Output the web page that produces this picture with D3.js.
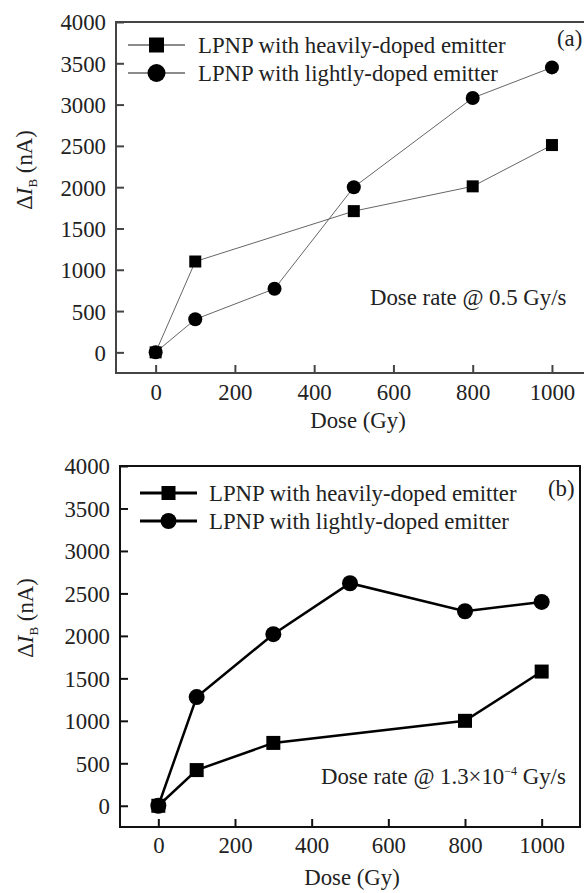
<!DOCTYPE html>
<html>
<head>
<meta charset="utf-8">
<script src="https://cdn.jsdelivr.net/npm/d3@7"></script>
<style>
  body { margin: 0; background: #fff; }
  svg { display: block; font-family: "Liberation Serif", "Times New Roman", serif; }
</style>
</head>
<body>
<svg id="chart" width="584" height="893"></svg>
<script>
// data
const doseTicks = [0, 200, 400, 600, 800, 1000];
const currentTicks = [0, 500, 1000, 1500, 2000, 2500, 3000, 3500, 4000];
const seriesNames = ["LPNP with heavily-doped emitter", "LPNP with lightly-doped emitter"];

const doseHeavyA = [0, 100, 500, 800, 1000];
const heavyA = [0, 1100, 1710, 2010, 2510];
const doseLightA = [0, 100, 300, 500, 800, 1000];
const lightA = [0, 400, 770, 2000, 3080, 3450];

const doseHeavyB = [0, 100, 300, 800, 1000];
const heavyB = [0, 420, 740, 1000, 1580];
const doseLightB = [0, 100, 300, 500, 800, 1000];
const lightB = [0, 1280, 2020, 2620, 2290, 2400];

const FS = 22.8;
const svg = d3.select("#chart");

function drawPanel(p) {
    const x = d3.scaleLinear().domain([-100, 1100]).range([p.left, p.right]);
    const y = d3.scaleLinear().domain([-250, 4000]).range([p.bottom, p.top]);
    const g = svg.append("g");

    // frame
    g.append("rect")
        .attr("x", p.left).attr("y", p.top)
        .attr("width", p.right - p.left).attr("height", p.bottom - p.top)
        .attr("fill", "none").attr("stroke", p.axisColor).attr("stroke-width", 2);

    // inward ticks
    const xAxis = d3.axisBottom(x).tickValues(doseTicks).tickSize(-8).tickPadding(10).tickFormat(d3.format("d"));
    const yAxis = d3.axisLeft(y).tickValues(currentTicks).tickSize(-8).tickPadding(10).tickFormat(d3.format("d"));

    const gx = g.append("g").attr("transform", `translate(0,${p.bottom})`).call(xAxis);
    const gy = g.append("g").attr("transform", `translate(${p.left},0)`).call(yAxis);
    [gx, gy].forEach(a => {
        a.select(".domain").remove();
        a.selectAll(".tick line").attr("stroke", p.axisColor).attr("stroke-width", 2);
        a.selectAll(".tick text").attr("fill", "#222").attr("font-size", FS).attr("font-family", "Liberation Serif");
    });
    gx.selectAll(".tick text").attr("dy", null).attr("y", null)
        .attr("transform", `translate(0,${p.xLabelBase - p.bottom})`);
    gy.selectAll(".tick text").attr("x", p.yLabelRight - p.left).attr("dy", "0.35em");

    // axis titles
    g.append("text")
        .attr("x", p.xTitleX).attr("y", p.xTitleY)
        .attr("text-anchor", "middle").attr("font-size", FS).attr("fill", "#222")
        .text("Dose (Gy)");

    const yt = g.append("text")
        .attr("transform", `translate(${p.yTitleX},${p.yTitleY}) rotate(-90)`)
        .attr("text-anchor", "middle").attr("font-size", FS).attr("fill", "#222");
    yt.append("tspan").text("\u0394");
    yt.append("tspan").attr("font-style", "italic").text("I");
    yt.append("tspan").attr("font-size", 13).attr("dy", 5).text("B");
    yt.append("tspan").attr("dy", -5).text(" (nA)");

    const line = d3.line().x(d => x(d[0])).y(d => y(d[1]));
    const heavyPts = p.doseHeavy.map((d, i) => [d, p.heavy[i]]);
    const lightPts = p.doseLight.map((d, i) => [d, p.light[i]]);

    const plot = g.append("g");
    [heavyPts, lightPts].forEach(pts => {
        plot.append("path").datum(pts).attr("d", line)
            .attr("fill", "none").attr("stroke", p.lineColor).attr("stroke-width", p.lineWidth);
    });
    plot.selectAll("circle.pt").data(lightPts).join("circle")
        .attr("class", "pt")
        .attr("cx", d => x(d[0])).attr("cy", d => y(d[1])).attr("r", p.circleR).attr("fill", "#000");
    plot.selectAll("rect.pt").data(heavyPts).join("rect")
        .attr("class", "pt")
        .attr("x", d => x(d[0]) - p.sq / 2).attr("y", d => y(d[1]) - p.sq / 2)
        .attr("width", p.sq).attr("height", p.sq).attr("fill", "#000");

    // legend
    const lg = g.append("g");
    seriesNames.forEach((name, i) => {
        const ly = p.legendY[i];
        lg.append("line")
            .attr("x1", p.legendX0).attr("x2", p.legendX1).attr("y1", ly).attr("y2", ly)
            .attr("stroke", p.lineColor).attr("stroke-width", p.lineWidth + 0.5);
        const cx = (p.legendX0 + p.legendX1) / 2;
        if (i === 0) {
            lg.append("rect").attr("x", cx - p.legendSq / 2).attr("y", ly - p.legendSq / 2)
                .attr("width", p.legendSq).attr("height", p.legendSq).attr("fill", "#000");
        } else {
            lg.append("circle").attr("cx", cx).attr("cy", ly).attr("r", p.legendR).attr("fill", "#000");
        }
        lg.append("text")
            .attr("x", p.legendTextX).attr("y", ly).attr("dy", "0.35em")
            .attr("font-size", FS).attr("fill", "#222").text(name);
    });

    g.append("text")
        .attr("x", p.tagX).attr("y", p.tagY).attr("dy", "0.35em")
        .attr("font-size", FS).attr("fill", "#222").text(p.tag);

    const rate = g.append("text")
        .attr("x", p.rateX).attr("y", p.rateY)
        .attr("font-size", FS).attr("fill", "#222");
    p.rateParts(rate);
}

drawPanel({
    left: 116, right: 591.6, top: 22, bottom: 373,
    axisColor: "#444", lineColor: "#666", lineWidth: 1,
    sq: 12, circleR: 7, legendSq: 15, legendR: 9,
    doseHeavy: doseHeavyA, heavy: heavyA, doseLight: doseLightA, light: lightA,
    xLabelBase: 400, yLabelRight: 106,
    xTitleX: 358, xTitleY: 428, yTitleX: 32, yTitleY: 170,
    legendX0: 128, legendX1: 185, legendY: [45, 73], legendTextX: 198,
    tag: "(a)", tagX: 557, tagY: 38,
    rateX: 370, rateY: 305,
    rateParts: t => t.text("Dose rate @ 0.5 Gy/s")
});

drawPanel({
    left: 120, right: 580, top: 466, bottom: 827,
    axisColor: "#111", lineColor: "#000", lineWidth: 2.5,
    sq: 14, circleR: 8, legendSq: 14, legendR: 8,
    doseHeavy: doseHeavyB, heavy: heavyB, doseLight: doseLightB, light: lightB,
    xLabelBase: 853, yLabelRight: 110,
    xTitleX: 352, xTitleY: 885, yTitleX: 33, yTitleY: 618,
    legendX0: 140, legendX1: 197, legendY: [493, 521], legendTextX: 209,
    tag: "(b)", tagX: 548, tagY: 488,
    rateX: 321, rateY: 784,
    rateParts: t => {
        t.append("tspan").text("Dose rate @ 1.3\u00d710");
        t.append("tspan").attr("font-size", 12).attr("dy", -9).text("\u22124");
        t.append("tspan").attr("dy", 9).text(" Gy/s");
    }
});
</script>
</body>
</html>
